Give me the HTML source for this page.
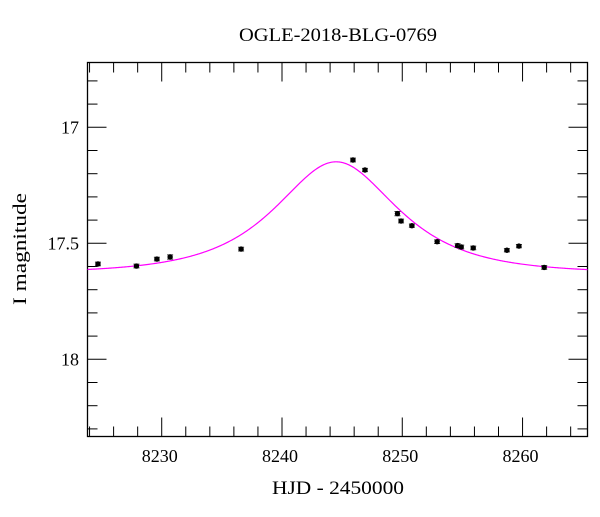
<!DOCTYPE html>
<html><head><meta charset="utf-8"><style>
body{margin:0;background:#fff}
svg text{font-family:"Liberation Serif",serif;fill:#000}
</style></head><body>
<svg width="600" height="512">
<g id="g"></g>
</svg>
<script>
const hjd=[8224.7,8227.9,8229.6,8230.7,8236.6,8245.9,8246.9,8249.6,8249.9,8250.8,8252.9,8254.6,8254.9,8255.9,8258.7,8259.7,8261.8];
const mag=[17.589,17.598,17.568,17.559,17.525,17.141,17.184,17.372,17.404,17.424,17.493,17.510,17.516,17.520,17.530,17.512,17.604];
const err=[0.008,0.008,0.008,0.009,0.008,0.008,0.007,0.009,0.008,0.007,0.008,0.008,0.008,0.008,0.007,0.007,0.008];
const xTicks=[8230,8240,8250,8260];
const yTicks=[17,17.5,18];
const model={t0:8244.5,u0:0.78,tE:7.0,base:17.63};
const L=87.5,R=587.5,T=62.5,B=436.5;
const xMin=8223.83,xMax=8265.4;
const X=t=>L+(t-xMin)/(xMax-xMin)*(R-L);
const Y=m=>127.3+(m-17)*232;
const g=document.getElementById('g');
const NS='http://www.w3.org/2000/svg';
function mk(tag,a){const e=document.createElementNS(NS,tag);for(const k in a)e.setAttribute(k,a[k]);g.appendChild(e);return e;}
let e=mk('rect',{x:L,y:T,width:R-L,height:B-T,fill:'none',stroke:'#000','stroke-width':1.3});


for(let t=8224;t<=8265;t+=2){
 const major=(t%10===0);const len=major?19:10;const x=X(t);
 e=mk('line',{x1:x,x2:x,y1:B,y2:B-len,stroke:'#000','stroke-width':1});
 
 
 e=mk('line',{x1:x,x2:x,y1:T,y2:T+len,stroke:'#000','stroke-width':1});
 
 
}
for(const t of xTicks){
 e=mk('text',{x:X(t)-2,y:462,'font-size':18,'text-anchor':'middle'});e.textContent=t;
 
 
}
for(let i=-3;i<=14;i++){
 const m=17+i*0.1;const y=Y(m);if(y<T+1||y>B-1)continue;
 const major=(i%5===0);const len=major?19:10;
 e=mk('line',{x1:L,x2:L+len,y1:y,y2:y,stroke:'#000','stroke-width':1});
 
 
 e=mk('line',{x1:R,x2:R-len,y1:y,y2:y,stroke:'#000','stroke-width':1});
 
 
}
for(const m of yTicks){
 e=mk('text',{x:79,y:Y(m)+6,'font-size':18,'text-anchor':'end'});e.textContent=m;
 
 
}
function A(u){return (u*u+2)/(u*Math.sqrt(u*u+4));}
let d='';
for(let px=L;px<=R;px+=1){
 const t=xMin+(px-L)/(R-L)*(xMax-xMin);const tau=(t-model.t0)/model.tE;
 const u=Math.sqrt(model.u0*model.u0+tau*tau);const m=model.base-2.5*Math.log10(A(u));
 d+=(d?'L':'M')+px.toFixed(1)+','+Y(m).toFixed(2);
}
e=mk('path',{d:d,fill:'none',stroke:'#ff00ff','stroke-width':1.2});


for(let i=0;i<hjd.length;i++){
 const x=X(hjd[i]),y=Y(mag[i]),ey=err[i]*232;
 e=mk('path',{d:`M${x},${y-ey}V${y+ey}M${x-3},${y-ey}H${x+3}M${x-3},${y+ey}H${x+3}`,stroke:'#333','stroke-width':1});
 
 
 e=mk('circle',{cx:x,cy:y,r:2.7,fill:'#000'});
 
 
}
e=mk('text',{x:338,y:41,'font-size':19,'text-anchor':'middle',textLength:198,lengthAdjust:'spacingAndGlyphs'});e.textContent='OGLE-2018-BLG-0769';


e=mk('text',{x:338,y:494,'font-size':19,'text-anchor':'middle',textLength:132,lengthAdjust:'spacingAndGlyphs'});e.textContent='HJD - 2450000';


e=mk('text',{x:0,y:0,'font-size':19,'text-anchor':'middle',textLength:112,lengthAdjust:'spacingAndGlyphs',transform:'translate(26,249) rotate(-90)'});e.textContent='I magnitude';


</script>
</body></html>
